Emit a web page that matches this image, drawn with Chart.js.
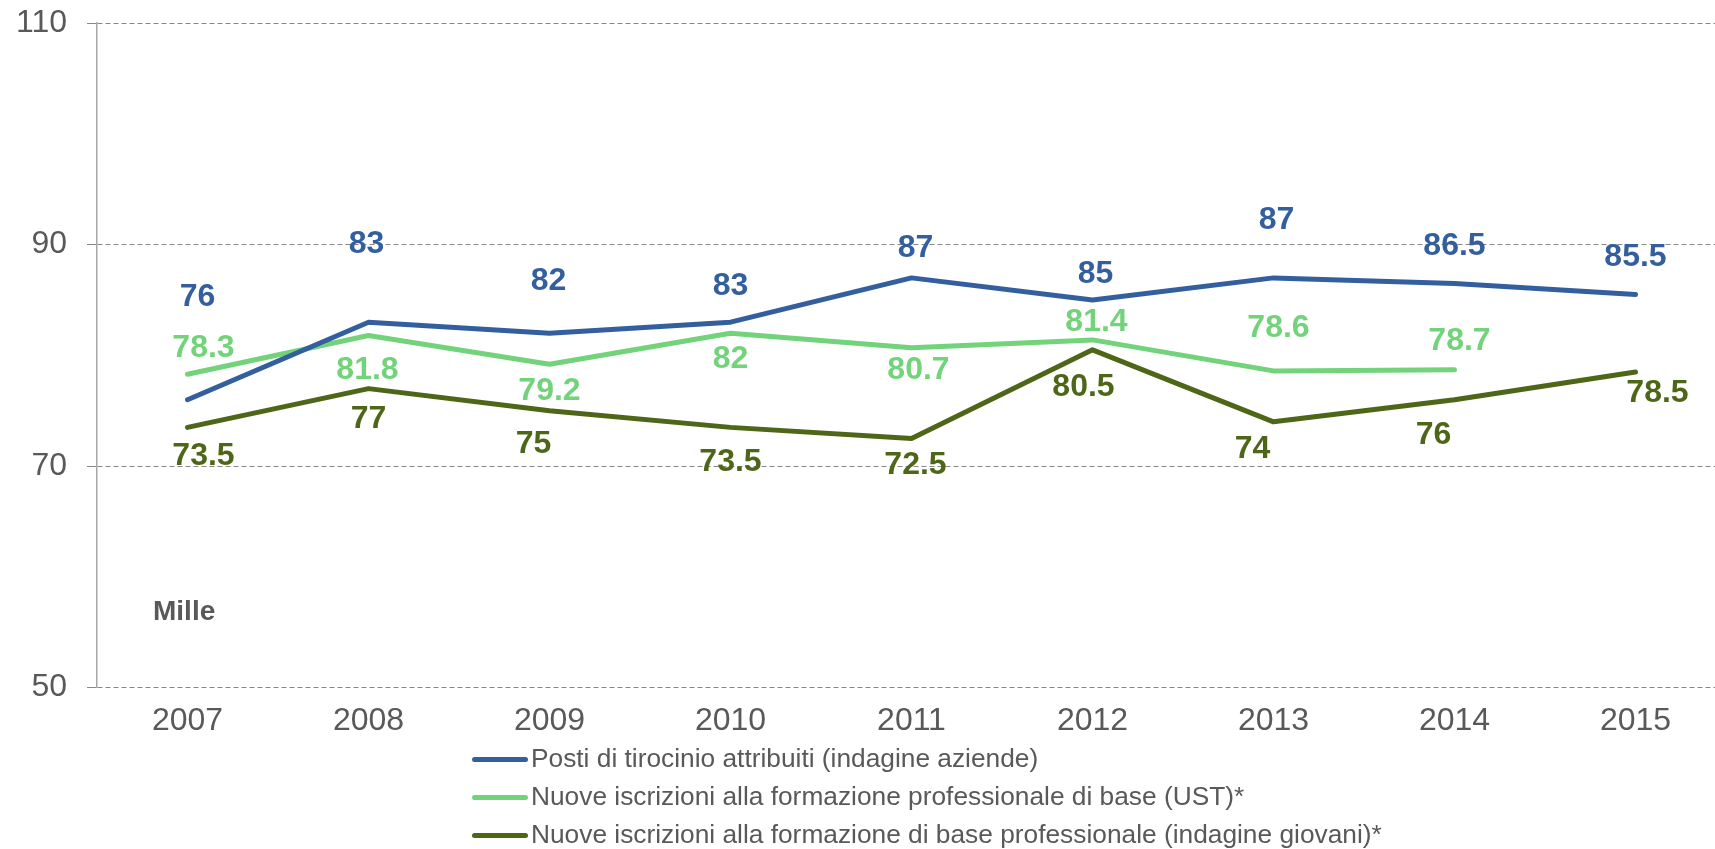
<!DOCTYPE html>
<html>
<head>
<meta charset="utf-8">
<script src="https://cdn.jsdelivr.net/npm/chart.js@4.4.0/dist/chart.umd.min.js"></script>
<style>
  html, body { margin: 0; padding: 0; background: #fff; overflow: hidden; }
  #wrap { position: relative; width: 1715px; height: 849px; overflow: hidden; }
  #myChart { position: absolute; left: -18px; top: 0; }
  #legend { position: absolute; left: 472px; top: 739px; font-family: 'Liberation Sans', Arial, sans-serif; font-size: 26.3px; color: #595959; }
  #legend div { height: 38px; line-height: 38px; white-space: nowrap; }
  #legend span { display: inline-block; width: 56px; height: 5px; border-radius: 3px; vertical-align: middle; margin-right: 3px; position: relative; top: -1px; }
</style>
</head>
<body>
<div id="wrap">
  <canvas id="myChart" width="1744" height="849"></canvas>
  <div id="legend"></div>
</div>
<script>
const years = ['2007', '2008', '2009', '2010', '2011', '2012', '2013', '2014', '2015'];

const posti = [76, 83, 82, 83, 87, 85, 87, 86.5, 85.5];
const iscrizioniUst = [78.3, 81.8, 79.2, 82, 80.7, 81.4, 78.6, 78.7, null];
const iscrizioniGiovani = [73.5, 77, 75, 73.5, 72.5, 80.5, 74, 76, 78.5];

const seriesNames = [
  'Posti di tirocinio attribuiti (indagine aziende)',
  'Nuove iscrizioni alla formazione professionale di base (UST)*',
  'Nuove iscrizioni alla formazione di base professionale (indagine giovani)*'
];
const colors = ['#345f9e', '#72d37a', '#4e6618'];

// where each value label sits relative to its point [dx, dy]
const labelShift = [
  [[10, -103], [-2, -78], [-1, -52], [0, -36], [4, -30], [3, -26], [3, -58], [0, -37], [0, -37]],
  [[16, -26], [-1, 35], [0, 27], [0, 26], [7, 23], [4, -18], [5, -43], [5, -29], [0, 0]],
  [[16, 29], [0, 31], [-16, 33], [0, 35], [4, 27], [-9, 37], [-21, 27], [-21, 35], [22, 21]]
];

const valueLabels = {
  id: 'valueLabels',
  afterDatasetsDraw(chart) {
    const ctx = chart.ctx;
    ctx.save();
    ctx.font = 'bold 32px "Liberation Sans", Arial, sans-serif';
    ctx.textAlign = 'center';
    ctx.textBaseline = 'middle';
    chart.data.datasets.forEach((ds, i) => {
      chart.getDatasetMeta(i).data.forEach((pt, j) => {
        const v = ds.data[j];
        if (v === null) return;
        ctx.fillStyle = ds.borderColor;
        ctx.fillText(String(v), pt.x + labelShift[i][j][0], pt.y + labelShift[i][j][1]);
      });
    });
    // unit note
    ctx.fillStyle = '#595959';
    ctx.font = 'bold 28px "Liberation Sans", Arial, sans-serif';
    ctx.textAlign = 'left';
    ctx.fillText('Mille', chart.chartArea.left + 56, 612);
    ctx.restore();
  }
};

const data = {
  labels: years,
  datasets: [posti, iscrizioniUst, iscrizioniGiovani].map((vals, i) => ({
    label: seriesNames[i],
    data: vals,
    borderColor: colors[i],
    backgroundColor: colors[i],
    borderWidth: 5,
    borderCapStyle: 'round',
    borderJoinStyle: 'round',
    pointRadius: 0,
    tension: 0,
    spanGaps: false
  }))
};

const config = {
  type: 'line',
  data: data,
  options: {
    responsive: false,
    animation: false,
    layout: { padding: { left: 14, top: 19, right: 0, bottom: 103 } },
    plugins: {
      legend: { display: false },
      tooltip: { enabled: false }
    },
    scales: {
      x: {
        offset: true,
        grid: { display: false },
        border: { display: false },
        ticks: { color: '#595959', padding: 6, font: { size: 32, family: '"Liberation Sans", Arial, sans-serif' } }
      },
      y: {
        min: 50,
        max: 110,
        ticks: { stepSize: 20, color: '#595959', padding: 20, font: { size: 32, lineHeight: 0.2, family: '"Liberation Sans", Arial, sans-serif' } },
        grid: { color: '#888888', tickLength: 10, lineWidth: 1 },
        border: { color: '#a6a6a6', width: 1.5, dash: [5, 3] }
      }
    }
  },
  plugins: [valueLabels]
};

myChart = new Chart(document.getElementById('myChart'), config);

const legend = document.getElementById('legend');
seriesNames.forEach((name, i) => {
  const row = document.createElement('div');
  row.innerHTML = '<span style="background:' + colors[i] + '"></span>' + name;
  legend.appendChild(row);
});
</script>
</body>
</html>
